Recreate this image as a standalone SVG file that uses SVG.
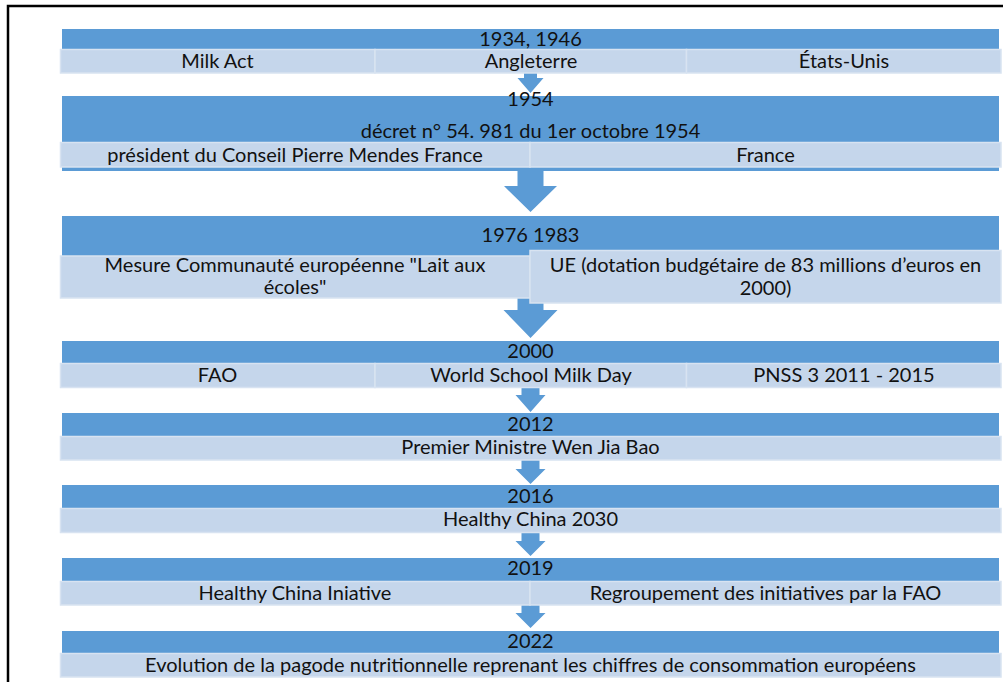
<svg xmlns="http://www.w3.org/2000/svg" width="1003" height="682" viewBox="0 0 1003 682">
<style>
.bar{fill:#5B9BD5}
.sub{fill:#C5D6EB;stroke:#D8E3F1;stroke-width:1.5}
.arr{fill:#5B9BD5}
text{font-family:Lato,"Liberation Sans",sans-serif;font-size:20px;fill:#111;text-anchor:middle}
</style>
<rect x="0" y="0" width="1003" height="682" fill="#fff"/>
<path d="M8 682 V6 H1003" fill="none" stroke="#000" stroke-width="2.5"/>
<g id="connectors">
<path class="arr" d="M524 72 H537 V78 H543.5 L530.5 93 L517.5 78 H524 Z"/>
<path class="arr" d="M517.5 167 H543.5 V186 H557 L530.5 212 L504 186 H517.5 Z"/>
<path class="arr" d="M517.5 298 H543.5 V310 H557.5 L530.5 338 L503.5 310 H517.5 Z"/>
<path class="arr" d="M521.5 386 H539.5 V395 H545.5 L530.5 412 L515.5 395 H521.5 Z"/>
<path class="arr" d="M521.5 459 H539.5 V469 H545.5 L530.5 484 L515.5 469 H521.5 Z"/>
<path class="arr" d="M521.5 532 H539.5 V541 H545.5 L530.5 556 L515.5 541 H521.5 Z"/>
<path class="arr" d="M521.5 604 H539.5 V613 H545.5 L530.5 628 L515.5 613 H521.5 Z"/>
</g>
<g id="n1934">
<rect class="bar" x="62" y="29" width="937" height="30"/>
<text x="530.5" y="46">1934, 1946</text>
<rect class="sub" x="60.5" y="49.5" width="314.5" height="23.5"/>
<rect class="sub" x="375" y="49.5" width="311.5" height="23.5"/>
<rect class="sub" x="686.5" y="49.5" width="314.5" height="23.5"/>
<text x="217.5" y="68">Milk Act</text>
<text x="531" y="68">Angleterre</text>
<text x="844" y="68">États-Unis</text>
</g>
<g id="n1954">
<rect class="bar" x="62" y="96" width="937" height="75"/>
<text x="530.5" y="106">1954</text>
<text x="530.5" y="138">décret n° 54. 981 du 1er octobre 1954</text>
<rect class="sub" x="60.5" y="142.5" width="469.5" height="24.5"/>
<rect class="sub" x="530" y="142.5" width="471" height="24.5"/>
<text x="295" y="161.5">président du Conseil Pierre Mendes France</text>
<text x="765.5" y="161.5">France</text>
</g>
<g id="n1976">
<rect class="bar" x="62" y="216" width="937" height="70"/>
<text x="530.5" y="242">1976 1983</text>
<rect class="sub" x="60.5" y="256" width="469.5" height="42"/>
<rect class="sub" x="530" y="250.5" width="471" height="52.5"/>
<text x="295" y="272">Mesure Communauté européenne "Lait aux</text>
<text x="295" y="294">écoles"</text>
<text x="765.5" y="272">UE (dotation budgétaire de 83 millions d’euros en</text>
<text x="765.5" y="295">2000)</text>
</g>
<g id="n2000">
<rect class="bar" x="62" y="341" width="937" height="30"/>
<text x="530.5" y="358">2000</text>
<rect class="sub" x="60.5" y="363.5" width="314.5" height="24"/>
<rect class="sub" x="375" y="363.5" width="311.5" height="24"/>
<rect class="sub" x="686.5" y="363.5" width="314.5" height="24"/>
<text x="217.5" y="382">FAO</text>
<text x="531" y="382">World School Milk Day</text>
<text x="844" y="382">PNSS 3 2011 - 2015</text>
</g>
<g id="n2012">
<rect class="bar" x="62" y="413" width="937" height="30"/>
<text x="530.5" y="431">2012</text>
<rect class="sub" x="60.5" y="436.5" width="940.5" height="23.5"/>
<text x="530.5" y="454">Premier Ministre Wen Jia Bao</text>
</g>
<g id="n2016">
<rect class="bar" x="62" y="485" width="937" height="30"/>
<text x="530.5" y="503">2016</text>
<rect class="sub" x="60.5" y="508.5" width="940.5" height="24"/>
<text x="530.5" y="526">Healthy China 2030</text>
</g>
<g id="n2019">
<rect class="bar" x="62" y="558" width="937" height="30"/>
<text x="530.5" y="575">2019</text>
<rect class="sub" x="60.5" y="581.5" width="469.5" height="23.5"/>
<rect class="sub" x="530" y="581.5" width="471" height="23.5"/>
<text x="295" y="600">Healthy China Iniative</text>
<text x="765.5" y="600">Regroupement des initiatives par la FAO</text>
</g>
<g id="n2022">
<rect class="bar" x="62" y="631" width="937" height="30"/>
<text x="530.5" y="648">2022</text>
<rect class="sub" x="60.5" y="653.5" width="940.5" height="23.5"/>
<text x="530.5" y="672">Evolution de la pagode nutritionnelle reprenant les chiffres de consommation européens</text>
</g>
</svg>
